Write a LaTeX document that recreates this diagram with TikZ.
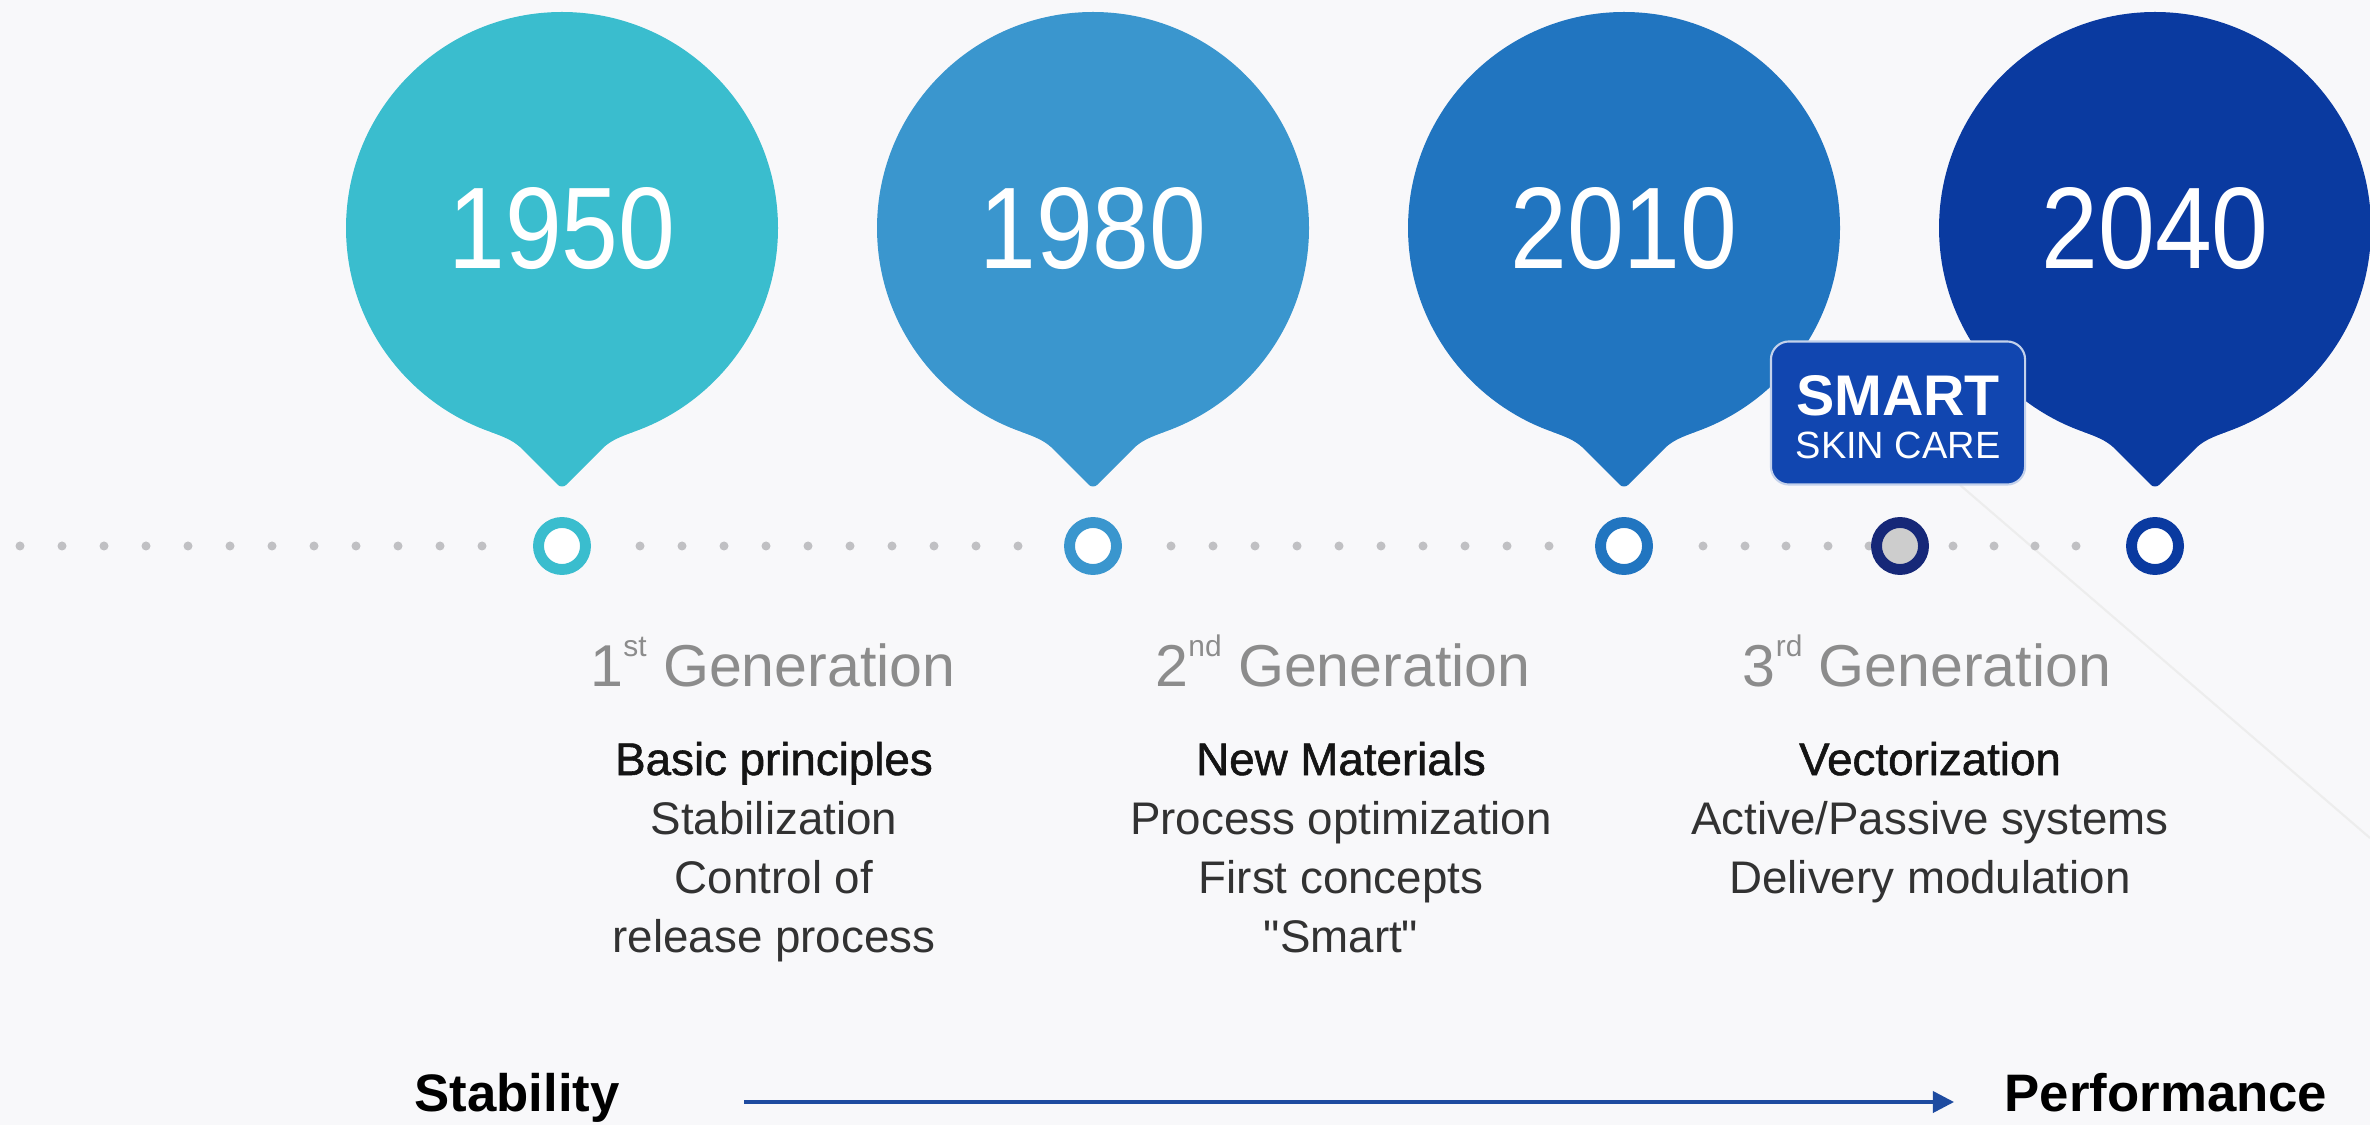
\documentclass[tikz,border=0pt]{standalone}
\usepackage{fontspec}
\setmainfont{Liberation Sans}
\newfontface\medface[FakeBold=1.2]{Liberation Sans}
\newfontface\qface[Ligatures=TeXOff]{Liberation Sans}
\usetikzlibrary{arrows.meta}
\definecolor{bgc}{RGB}{248,248,250}
\definecolor{cA}{RGB}{58,189,206}
\definecolor{cB}{RGB}{58,150,206}
\definecolor{cC}{RGB}{33,117,192}
\definecolor{cD}{RGB}{10,58,160}
\definecolor{smartc}{RGB}{17,70,176}
\definecolor{smartring}{RGB}{22,40,120}
\definecolor{smartfill}{RGB}{205,205,205}
\definecolor{dotc}{RGB}{192,192,195}
\definecolor{headc}{RGB}{140,140,140}
\definecolor{firstc}{RGB}{20,20,20}
\definecolor{bodyc}{RGB}{50,50,50}
\definecolor{arrowc}{RGB}{30,75,160}
\newcommand\gsup[1]{\raisebox{0.5em}{\fontsize{8.5}{9}\selectfont #1}}
\tikzset{
  year/.style={text=white, anchor=base, inner sep=0pt, font=\fontsize{33}{36}\selectfont},
  ring/.style={circle, minimum size=0.47cm, inner sep=0pt, line width=3.1pt, fill=white},
  head/.style={text=headc, anchor=base, inner sep=0pt, font=\fontsize{16.8}{20}\selectfont},
  first/.style={text=firstc, anchor=base, inner sep=0pt, font=\fontsize{13}{16}\medface},
  body/.style={text=bodyc, anchor=base, inner sep=0pt, font=\fontsize{13}{16}\selectfont},
  bottom/.style={text=black, anchor=base, inner sep=0pt, font=\fontsize{15}{18}\selectfont\bfseries},
  faint/.style={draw=gray!14, line width=0.6pt}
}
\begin{document}
\begin{tikzpicture}[x=0.01cm,y=-0.01cm]
\useasboundingbox (0,0) rectangle (2370,1125);
\fill[bgc] (0,0) rectangle (2370,1125);
\draw[faint] (1960,485) -- (2370,838);

% bubbles
\foreach \cx/\col/\yr/\nm in {562/cA/1950/y1, 1093/cB/1980/y2, 1624/cC/2010/y3, 2155/cD/2040/y4} {
  \fill[\col] (\cx,228) circle[radius=216];
  \fill[\col] (\cx-72,431.6) .. controls (\cx-58,437) and (\cx-50,440) .. (\cx-42,447)
     -- (\cx-4,485) .. controls (\cx-2,487) and (\cx+2,487) .. (\cx+4,485)
     -- (\cx+42,447) .. controls (\cx+50,440) and (\cx+58,437) .. (\cx+72,431.6) -- cycle;
  \node[year] (\nm) at (\cx,269) {\scalebox{0.88}[1]{\yr}};
}

% dotted timeline
\foreach \x in {20,62,...,482, 640,682,...,1018, 1171,1213,...,1549, 1703,1745,1786,1828,1869, 1953,1994,2035,2076}
  \fill[dotc] (\x,546) circle[radius=4.5];

% rings
\node[ring, draw=cA] (r1) at (562,546) {};
\node[ring, draw=cB] (r2) at (1093,546) {};
\node[ring, draw=cC] (r3) at (1624,546) {};
\node[ring, draw=smartring, fill=smartfill] (rs) at (1900,546) {};
\node[ring, draw=cD] (r4) at (2155,546) {};

% SMART badge
\node[draw=white!75!smartc, line width=0.6pt, fill=smartc, rounded corners=0.18cm,
      minimum width=2.54cm, minimum height=1.43cm, inner sep=0pt] (badge) at (1898,413) {};
\node[text=white, anchor=base, inner sep=0pt, font=\fontsize{16.3}{18}\selectfont\bfseries] (smart) at (1898,416) {SMART};
\node[text=white, anchor=base, inner sep=0pt, font=\fontsize{10.8}{12}\selectfont] (skin) at (1898,459) {SKIN CARE};

% generation headings
\node[head] (g1) at (773,686) {1\gsup{st} Generation};
\node[head] (g2) at (1343,686) {2\gsup{nd} Generation};
\node[head] (g3) at (1927,686) {3\gsup{rd} Generation};

% block 1
\node[first] (a1) at (774,775) {Basic principles};
\node[body] (a2) at (774,834) {Stabilization};
\node[body] (a3) at (774,893) {Control of};
\node[body] (a4) at (774,952) {release process};
% block 2
\node[first] (b1) at (1341,775) {New Materials};
\node[body] (b2) at (1341,834) {Process optimization};
\node[body] (b3) at (1341,893) {First concepts};
\node[body] (b4) at (1341,952) {{\qface "}Smart{\qface "}};
% block 3
\node[first] (c1) at (1930,775) {Vectorization};
\node[body] (c2) at (1930,834) {Active/Passive systems};
\node[body] (c3) at (1930,893) {Delivery modulation};

% bottom axis
\node[bottom] (stab) at (517,1111) {Stability};
\node[bottom] (perf) at (2166,1111) {Performance};
\coordinate (ax0) at (744,1102);
\coordinate (ax1) at (1954,1102);
\draw[arrowc, line width=1pt, -{Triangle[length=6pt, width=6pt]}] (ax0) -- (ax1);
\end{tikzpicture}
\end{document}
